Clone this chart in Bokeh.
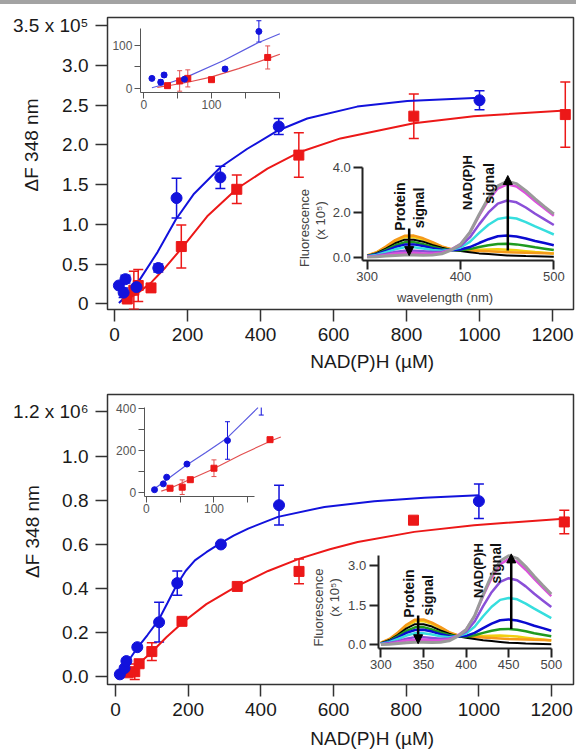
import numpy as np
from bokeh.plotting import figure
from bokeh.models import (Range1d, LinearAxis, FixedTicker, ColumnDataSource,
                          Whisker, TeeHead, Arrow, NormalHead, Label, Div)
from bokeh.layouts import column
from bokeh.embed import file_html
from bokeh.resources import INLINE

FONT = "Liberation Sans"
BLUE = "#1212dc"
RED = "#ec1818"
BLUE_THIN = "#5a5ae0"
RED_THIN = "#e25050"
NBSP = "\u00a0"

# ---------------- data ----------------
nadph_blue = [12, 25, 30, 60, 120, 170, 290, 450, 1000]
nadph_red = [35, 53, 65, 100, 183, 335, 505, 820, 1235]

# top panel, dF in units of 1e5
top_blue_dF = [0.23, 0.14, 0.31, 0.21, 0.45, 1.33, 1.59, 2.23, 2.56]
top_blue_err = [0, 0.06, 0.05, 0, 0.05, 0.25, 0.14, 0.10, 0.12]
top_red_dF = [0.06, 0.17, 0.23, 0.20, 0.72, 1.44, 1.87, 2.36, 2.38]
top_red_err = [0, 0.24, 0.20, 0, 0.27, 0.18, 0.28, 0.28, 0.41]

# bottom panel, dF in units of 1e6
bot_blue_dF = [0.012, 0.040, 0.072, 0.135, 0.248, 0.425, 0.600, 0.778, 0.796]
bot_blue_err = [0, 0, 0, 0, 0.090, 0.055, 0, 0.090, 0.078]
bot_red_dF = [0.019, 0.024, 0.060, 0.115, 0.252, 0.410, 0.478, 0.710, 0.702]
bot_red_err = [0, 0.035, 0, 0.040, 0, 0, 0.056, 0, 0.053]

# fitted curves
top_fit_blue_x = [12, 35, 63, 118, 168, 218, 291, 364, 448, 528, 665, 802, 1000]
top_fit_blue_y = [0.01, 0.11, 0.26, 0.65, 1.06, 1.385, 1.72, 1.95, 2.18, 2.33, 2.48, 2.55, 2.59]
top_fit_red_x = [20, 40, 65, 99, 140, 186, 254, 336, 419, 508, 619, 820, 984, 1235]
top_fit_red_y = [0.02, 0.07, 0.14, 0.26, 0.46, 0.71, 1.10, 1.45, 1.70, 1.91, 2.08, 2.27, 2.36, 2.43]

bot_fit_blue_x = [8, 30, 58.5, 88, 118, 143, 168, 193, 218.5, 250, 287, 325, 365, 447, 575, 712, 850, 1000]
bot_fit_blue_y = [0.007, 0.06, 0.128, 0.19, 0.256, 0.335, 0.415, 0.48, 0.528, 0.565, 0.604, 0.64, 0.672,
                  0.725, 0.77, 0.796, 0.812, 0.823]
bot_fit_red_x = [22, 36, 60, 95, 140, 186.5, 250, 333, 420, 506.5, 590, 666.5, 822, 986.6, 1233]
bot_fit_red_y = [0.005, 0.02, 0.055, 0.105, 0.18, 0.249, 0.33, 0.41, 0.48, 0.536, 0.578, 0.611, 0.657,
                 0.687, 0.717]

# emission spectra (x 1e5)
wavelength = [300, 310, 320, 330, 340, 350, 360, 370, 380, 390, 400, 410, 420, 430, 440, 450, 460, 470, 480, 490, 500]
spec_gold = [0.07, 0.20, 0.44, 0.72, 0.89, 0.90, 0.79, 0.63, 0.46, 0.35, 0.33, 0.33, 0.33, 0.34, 0.35, 0.33, 0.31, 0.27, 0.23, 0.20, 0.16]
spec_orange = [0.08, 0.22, 0.47, 0.76, 0.95, 0.96, 0.84, 0.67, 0.48, 0.36, 0.32, 0.30, 0.28, 0.26, 0.24, 0.22, 0.21, 0.20, 0.19, 0.18, 0.17]
spec_black = [0.06, 0.18, 0.38, 0.62, 0.78, 0.78, 0.69, 0.54, 0.42, 0.32, 0.27, 0.22, 0.17, 0.14, 0.11, 0.08, 0.07, 0.05, 0.04, 0.03, 0.02]
spec_green = [0.05, 0.15, 0.33, 0.53, 0.66, 0.67, 0.58, 0.47, 0.37, 0.32, 0.31, 0.36, 0.45, 0.53, 0.59, 0.60, 0.57, 0.51, 0.44, 0.38, 0.32]
spec_blue = [0.05, 0.13, 0.28, 0.45, 0.56, 0.57, 0.50, 0.40, 0.33, 0.31, 0.34, 0.45, 0.63, 0.80, 0.93, 0.96, 0.92, 0.83, 0.72, 0.63, 0.53]
spec_cyan = [0.04, 0.10, 0.22, 0.35, 0.44, 0.44, 0.39, 0.32, 0.29, 0.33, 0.43, 0.68, 1.08, 1.44, 1.70, 1.77, 1.72, 1.56, 1.37, 1.19, 1.01]
spec_purple = [0.02, 0.07, 0.14, 0.23, 0.29, 0.29, 0.26, 0.23, 0.23, 0.33, 0.50, 0.88, 1.46, 1.99, 2.38, 2.52, 2.44, 2.21, 1.93, 1.68, 1.43]
spec_magenta = [0.02, 0.04, 0.10, 0.16, 0.19, 0.20, 0.17, 0.17, 0.20, 0.35, 0.58, 1.08, 1.85, 2.54, 3.05, 3.24, 3.14, 2.84, 2.49, 2.16, 1.84]
spec_gray = [0.01, 0.02, 0.05, 0.08, 0.10, 0.10, 0.09, 0.10, 0.15, 0.32, 0.57, 1.10, 1.90, 2.64, 3.17, 3.37, 3.27, 2.96, 2.59, 2.25, 1.92]

spectra = [
    (spec_gold, "#f2cf10", 2.5), (spec_orange, "#f59a1a", 2.5), (spec_black, "#000000", 2.0),
    (spec_green, "#1f9a1f", 2.5), (spec_blue, "#0a0ad0", 2.5), (spec_cyan, "#36dede", 2.5),
    (spec_purple, "#8a4fd8", 2.5), (spec_magenta, "#dc50dc", 2.5), (spec_gray, "#9a9a9a", 3.0),
]

main_x_ticks = [0, 200, 400, 600, 800, 1000, 1200]
top_y_ticks = [0.0, 0.5, 1.0, 1.5, 2.0, 2.5, 3.0, 3.5]
top_y_labels = ["0", "0.5", "1.0", "1.5", "2.0", "2.5", "3.0", "3.5 x 10\u2075"]
bot_y_ticks = [0.0, 0.2, 0.4, 0.6, 0.8, 1.0, 1.2]
bot_y_labels = ["0.0", "0.2", "0.4", "0.6", "0.8", "1.0", "1.2 x 10\u2076"]
x_title = "NAD(P)H (\u00b5M)"
y_title = "\u0394F 348 nm"


def whiskers(p, xs, ys, es, color, head, lw, scale=1.0, ytop=None, xr="default", yr="default"):
    full = dict(base=[], lower=[], upper=[])
    cut = dict(base=[], lower=[], upper=[])
    for x, y, e in zip(xs, ys, es):
        if e <= 0:
            continue
        lo, hi = (y - e) * scale, (y + e) * scale
        if ytop is not None and hi > ytop:
            cut["base"].append(x); cut["lower"].append(lo); cut["upper"].append(ytop)
        else:
            full["base"].append(x); full["lower"].append(lo); full["upper"].append(hi)
    for d, top_head in ((full, True), (cut, False)):
        if not d["base"]:
            continue
        w = Whisker(source=ColumnDataSource(d), base="base", lower="lower", upper="upper",
                    dimension="height", line_color=color, line_width=lw,
                    lower_head=TeeHead(size=head, line_color=color, line_width=lw),
                    upper_head=TeeHead(size=head, line_color=color, line_width=lw) if top_head else None,
                    x_range_name=xr, y_range_name=yr)
        p.add_layout(w)


def style_inset_axis(ax, ticks, overrides, tick_out, font_size, color, lw, standoff):
    ax.ticker = FixedTicker(ticks=ticks)
    ax.major_label_overrides = overrides
    ax.major_tick_out = tick_out
    ax.major_tick_in = 0
    ax.minor_tick_out = 0
    ax.minor_tick_in = 0
    ax.axis_line_color = color
    ax.major_tick_line_color = color
    ax.axis_line_width = lw
    ax.major_tick_line_width = lw
    ax.major_label_text_font = FONT
    ax.major_label_text_font_size = font_size
    ax.major_label_text_color = color
    ax.major_label_standoff = standoff


def inset_curve(fx, fy, scale, xmax, ymax):
    fx = np.asarray(fx, float)
    fy = np.asarray(fy, float) * scale
    x_end = xmax
    if fy.max() > ymax:
        x_end = min(x_end, float(np.interp(ymax, fy, fx)))
    m = fx < x_end
    return list(fx[m]) + [x_end], list(fy[m]) + [float(np.interp(x_end, fx, fy))]


def build(c):
    p = figure(width=576, height=c["height"], x_range=Range1d(*c["xr"]), y_range=Range1d(*c["yr"]),
               output_backend="svg", toolbar_location=None,
               min_border_left=c["ml"], min_border_right=3, min_border_top=c["mt"], min_border_bottom=c["mb"])
    p.extra_x_ranges = {"ix": Range1d(*c["ixr"]), "sx": Range1d(*c["sxr"])}
    p.extra_y_ranges = {"iy": Range1d(*c["iyr"]), "sy": Range1d(*c["syr"])}
    p.grid.visible = False
    p.outline_line_color = "#333333"
    p.outline_line_width = 1.5
    p.background_fill_color = "white"
    p.border_fill_color = "white"
    for ax in (p.xaxis[0], p.yaxis[0]):
        ax.axis_line_color = None          # the frame outline draws the axis line
        ax.major_tick_line_color = "#333333"
        ax.major_tick_line_width = 1.5
        ax.major_tick_out = 12
        ax.major_tick_in = 0
        ax.minor_tick_out = 0
        ax.minor_tick_in = 0
        ax.major_label_text_font = FONT
        ax.major_label_text_font_size = "19px"
        ax.major_label_text_color = "#1a1a1a"
        ax.axis_label_text_font = FONT
        ax.axis_label_text_font_size = "19px"
        ax.axis_label_text_font_style = "normal"
        ax.axis_label_text_color = "#1a1a1a"
    p.xaxis.ticker = FixedTicker(ticks=main_x_ticks)
    p.xaxis.major_label_standoff = 6
    # leading no-break spaces move the centred title to where the reference has it
    p.xaxis.axis_label = NBSP * c["xlab_pad"] + x_title
    p.xaxis.axis_label_standoff = c["xlab_standoff"]
    p.yaxis.ticker = FixedTicker(ticks=c["yticks"])
    p.yaxis.major_label_overrides = dict(zip(c["yticks"], c["ylabels"]))
    p.yaxis.major_label_standoff = 7
    p.yaxis.axis_label = NBSP * c["ylab_pad"] + y_title
    p.yaxis.axis_label_standoff = c["ylab_standoff"]

    # main fits, error bars and points
    p.line(c["frx"], c["fry"], line_color=RED, line_width=2)
    p.line(c["fbx"], c["fby"], line_color=BLUE, line_width=2)
    whiskers(p, nadph_red, c["ry"], c["re"], RED, 10, 1.5)
    whiskers(p, nadph_blue, c["by"], c["be"], BLUE, 10, 1.5)
    p.scatter(nadph_red, c["ry"], marker="square", size=10, color=RED)
    p.scatter(nadph_blue, c["by"], marker="circle", size=11, color=BLUE)

    # ---- low-concentration inset ----
    s = c["iscale"]
    ytop = c["iybounds"][1] if c["iclip"] else None
    for fx, fy, col in ((c["frx"], c["fry"], RED_THIN), (c["fbx"], c["fby"], BLUE_THIN)):
        lx, ly = inset_curve(fx, fy, s, c["ixline"], c["iybounds"][1] if c["iclip"] else 1e9)
        p.line(lx, ly, line_color=col, line_width=1.2, x_range_name="ix", y_range_name="iy")
    for xs, ys, es, col, mk in ((nadph_red, c["ry"], c["re"], RED, "square"),
                                (nadph_blue, c["by"], c["be"], BLUE, "circle")):
        sel = [i for i, x in enumerate(xs) if x <= 200]
        sx_ = [xs[i] for i in sel]
        sy_ = [ys[i] for i in sel]
        se_ = [es[i] for i in sel]
        whiskers(p, sx_, sy_, se_, col if col == BLUE else RED_THIN, 5, 1, scale=s, ytop=ytop,
                 xr="ix", yr="iy")
        vis = [i for i in range(len(sx_)) if ytop is None or sy_[i] * s <= ytop]
        p.scatter([sx_[i] for i in vis], [sy_[i] * s for i in vis], marker=mk, size=6, color=col,
                  x_range_name="ix", y_range_name="iy")
    ay = LinearAxis(x_range_name="ix", y_range_name="iy", fixed_location=c["ixbounds"][0],
                    bounds=c["iybounds"])
    style_inset_axis(ay, c["iyticks"], c["iyover"], 6, "12px", "#555555", 1, 2)
    p.add_layout(ay, "left")
    axx = LinearAxis(x_range_name="ix", y_range_name="iy", fixed_location=c["iybounds"][0],
                     bounds=c["ixbounds"])
    style_inset_axis(axx, c["ixticks"], c["ixover"], 6, "12px", "#555555", 1, 2)
    p.add_layout(axx, "below")

    # ---- spectra inset ----
    for sp, col, lw in spectra:
        p.line(wavelength, sp, line_color=col, line_width=lw, x_range_name="sx", y_range_name="sy")
    say = LinearAxis(x_range_name="sx", y_range_name="sy", fixed_location=c["sxbounds"][0],
                     bounds=c["sybounds"])
    style_inset_axis(say, c["syticks"], c["syover"], 9, "13px", "#222222", 2, 3)
    say.major_label_text_color = "#444444"
    p.add_layout(say, "left")
    sax = LinearAxis(x_range_name="sx", y_range_name="sy", fixed_location=c["sybounds"][0],
                     bounds=c["sxbounds"])
    style_inset_axis(sax, c["sxticks"], {}, 9, "13px", "#222222", 2, 2)
    sax.major_label_text_color = "#444444"
    p.add_layout(sax, "below")
    for (x0, y0, x1, y1) in c["arrows"]:
        p.add_layout(Arrow(x_start=x0, y_start=y0, x_end=x1, y_end=y1, line_width=2.5, line_color="black",
                           end=NormalHead(size=9, fill_color="black", line_color="black"),
                           x_range_name="sx", y_range_name="sy"))
    for (x, y, txt, size, style, col) in c["texts"]:
        p.add_layout(Label(x=x, y=y, text=txt, angle=np.pi / 2, text_align="center", text_baseline="middle",
                           text_font=FONT, text_font_size=size, text_font_style=style, text_color=col,
                           x_range_name="sx", y_range_name="sy"))
    if c["wl_label"] is not None:
        p.add_layout(Label(x=c["wl_label"][0], y=c["wl_label"][1], text="wavelength (nm)",
                           text_align="center", text_baseline="middle", text_font=FONT,
                           text_font_size="13px", text_color="#444444",
                           x_range_name="sx", y_range_name="sy"))
    return p


top_cfg = dict(
    height=376, ml=107, mt=13, mb=71,
    xr=(-19.2, 1257.5), yr=(-0.072, 3.601),
    ixr=(-53.6, 634.7), iyr=(-518.3, 165.6),
    sxr=(21.7, 521.1), syr=(-2.324, 10.653),
    yticks=top_y_ticks, ylabels=top_y_labels,
    xlab_pad=12, xlab_standoff=7,
    ylab_pad=7, ylab_standoff=-32,
    frx=top_fit_red_x, fry=top_fit_red_y, fbx=top_fit_blue_x, fby=top_fit_blue_y,
    ry=top_red_dF, re=top_red_err, by=top_blue_dF, be=top_blue_err,
    iscale=100.0, iclip=False, ixline=201,
    ixbounds=(-5.0, 201.0), iybounds=(-10.0, 140.0),
    iyticks=[0, 50, 100], iyover={50: ""},
    ixticks=[0, 50, 100, 150, 200], ixover={50: "", 150: "", 200: ""},
    sxbounds=(295.3, 500.0), sybounds=(-0.147, 4.0),
    syticks=[0.0, 2.0, 4.0], syover={0.0: "0.0", 2.0: "2.0", 4.0: "4.0"},
    sxticks=[300, 400, 500],
    arrows=[(345, 1.28, 345, 0.07), (450.7, 0.30, 450.7, 3.63)],
    texts=[(232.5, 1.30, "Fluorescence", "13px", "normal", "#444444"),
           (250.3, 1.63, "(x 10\u2075)", "13px", "normal", "#444444"),
           (335.7, 2.25, "Protein", "14px", "bold", "#111111"),
           (355.3, 2.19, "signal", "14px", "bold", "#111111"),
           (407.2, 3.32, "NAD(P)H", "13px", "bold", "#111111"),
           (430.8, 3.28, "signal", "14px", "bold", "#111111")],
    wl_label=(383.4, -1.78),
)

bot_cfg = dict(
    height=375, ml=106, mt=14, mb=71,
    xr=(-22.0, 1260.3), yr=(-0.034, 1.279),
    ixr=(-57.6, 632.2), iyr=(-922.3, 468.6),
    sxr=(-21.0, 526.1), syr=(-1.502, 9.470),
    yticks=bot_y_ticks, ylabels=bot_y_labels,
    xlab_pad=12, xlab_standoff=9,
    ylab_pad=3, ylab_standoff=-33,
    frx=bot_fit_red_x, fry=bot_fit_red_y, fbx=bot_fit_blue_x, fby=bot_fit_blue_y,
    ry=bot_red_dF, re=bot_red_err, by=bot_blue_dF, be=bot_blue_err,
    iscale=1000.0, iclip=True, ixline=199,
    ixbounds=(-3.4, 160.0), iybounds=(-20.6, 406.0),
    iyticks=[0, 100, 200, 300, 400], iyover={100: "", 300: ""},
    ixticks=[0, 50, 100, 150], ixover={50: "", 150: ""},
    sxbounds=(296.8, 500.0), sybounds=(-0.151, 3.38),
    syticks=[0.0, 1.5, 3.0], syover={0.0: "0.0", 1.5: "1.5", 3.0: "3.0"},
    sxticks=[300, 350, 400, 450, 500],
    arrows=[(343.7, 1.11, 343.7, 0.04), (453, 0.6, 453, 3.44)],
    texts=[(226.5, 1.41, "Fluorescence", "13px", "normal", "#444444"),
           (245.3, 1.79, "(x 10\u2075)", "13px", "normal", "#444444"),
           (333.2, 1.94, "Protein", "14px", "bold", "#111111"),
           (354.7, 1.87, "signal", "14px", "bold", "#111111"),
           (414.2, 2.81, "NAD(P)H", "13px", "bold", "#111111"),
           (434.7, 3.08, "signal", "14px", "bold", "#111111")],
    wl_label=None,
)

bar = Div(text="", width=576, height=4, margin=0, styles={"background-color": "#a3a3a3"})
p_top = build(top_cfg)
p_bot = build(bot_cfg)
layout = column(bar, p_top, p_bot, spacing=0)

with open("out.html", "w") as f:
    f.write(file_html(layout, INLINE))
